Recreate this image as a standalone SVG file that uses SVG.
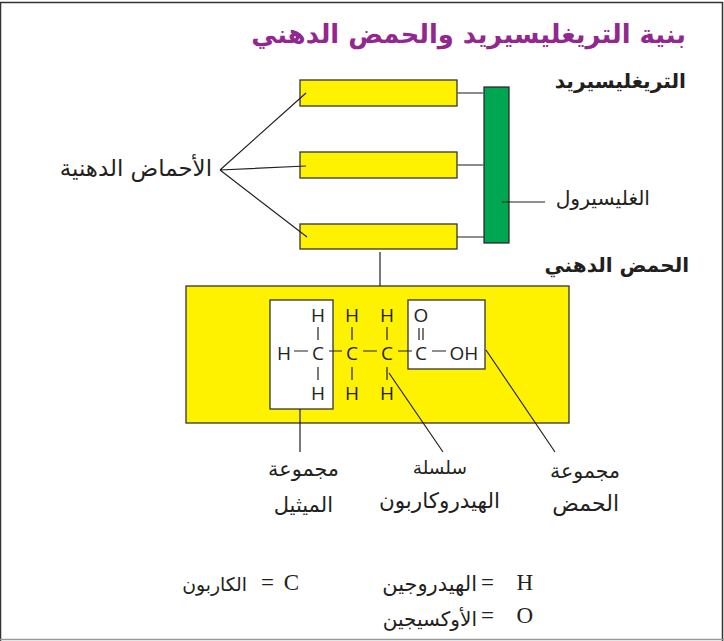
<svg xmlns="http://www.w3.org/2000/svg" width="724" height="641" viewBox="0 0 724 641">
<style>
.ar{font-family:"DejaVu Sans",sans-serif;fill:#231f20;direction:rtl}
.b{font-weight:700}
.ch{font-family:"Open Sans","Liberation Sans",sans-serif;font-size:19px;fill:#231f20;text-anchor:middle}
.lg{font-family:"Liberation Serif",serif;font-size:23px;fill:#231f20;text-anchor:end}
.y{fill:#fff200;stroke:#333;stroke-width:1.3}
.w{fill:#fff;stroke:#333;stroke-width:1.3}
.ln{stroke:#231f20;stroke-width:1.2;fill:none}
.gr{stroke:#666;stroke-width:1.6;fill:none}
</style>
<rect width="724" height="641" fill="#fff"/>
<path d="M0.5 641V2.5H722.5V641" fill="none" stroke="#333" stroke-width="1.5"/>
<path d="M0 639.5H724" stroke="#999" stroke-width="1.5"/>
<text x="686" y="43" class="ar b" font-size="25.8" style="fill:#92278f">بنية التريغليسيريد والحمض الدهني</text>
<g id="fatty-acid-1"><rect class="y" x="300" y="80" width="157" height="26"/></g>
<g id="fatty-acid-2"><rect class="y" x="300" y="152" width="157" height="26"/></g>
<g id="fatty-acid-3"><rect class="y" x="300" y="224" width="157" height="25"/></g>
<g id="glycerol"><rect x="484" y="87" width="25" height="156" fill="#00a651" stroke="#222" stroke-width="1.2"/></g>
<g id="fatty-acid-box"><rect class="y" x="186" y="286" width="383" height="137"/></g>
<g id="methyl-box"><rect class="w" x="270" y="300" width="63" height="109"/></g>
<g id="acid-box"><rect class="w" x="408" y="300" width="77" height="69"/></g>
<g id="connectors">
<path class="gr" d="M457 93H484M457 165H484"/>
<path class="ln" d="M220 170L306 93M220 170L306 166M220 170L307 237M457 237H484M502 202H545M380 252V286M300 409V452M389 373L443 452M486 350L555 452"/>
</g>
<g id="formula">
<path class="ln" d="M318 327V340M318 367V380M352 327V340M352 367V380M387 327V340M387 367V380M294 351H308M329 351H342M363 351H377M398 351H412M432 351H446M419 328V340M423 328V340"/>
<text class="ch" x="318" y="322">H</text><text class="ch" x="352" y="322">H</text><text class="ch" x="387" y="322">H</text><text class="ch" x="421" y="322">O</text>
<text class="ch" x="284" y="360">H</text><text class="ch" x="318" y="360">C</text><text class="ch" x="352" y="360">C</text><text class="ch" x="387" y="360">C</text><text class="ch" x="421" y="360">C</text><text class="ch" x="464" y="360">OH</text>
<text class="ch" x="318" y="400">H</text><text class="ch" x="352" y="400">H</text><text class="ch" x="387" y="400">H</text>
</g>
<text x="686" y="88" class="ar b" font-size="20.2">التريغليسيريد</text>
<text x="689" y="272" class="ar b" font-size="20">الحمض الدهني</text>
<text x="212" y="176" class="ar" font-size="22.9">الأحماض الدهنية</text>
<text x="650" y="205" class="ar" font-size="20.3">الغليسيرول</text>
<text x="339" y="476" class="ar" font-size="20.8">مجموعة</text>
<text x="333" y="512" class="ar" font-size="21">الميثيل</text>
<text x="467" y="474" class="ar" font-size="18.5">سلسلة</text>
<text x="500" y="508" class="ar" font-size="21.5">الهيدروكاربون</text>
<text x="620" y="478" class="ar" font-size="20.5">مجموعة</text>
<text x="619" y="511" class="ar" font-size="22">الحمض</text>
<text x="299" y="590" class="lg">C</text>
<text x="274" y="590" class="lg">=</text>
<text x="247" y="591" class="ar" font-size="18.8">الكاربون</text>
<text x="533" y="590" class="lg">H</text>
<text x="494" y="590" class="lg">=</text>
<text x="477" y="591" class="ar" font-size="21">الهيدروجين</text>
<text x="533" y="623" class="lg">O</text>
<text x="494" y="623" class="lg">=</text>
<text x="477" y="626" class="ar" font-size="20">الأوكسيجين</text>
</svg>
